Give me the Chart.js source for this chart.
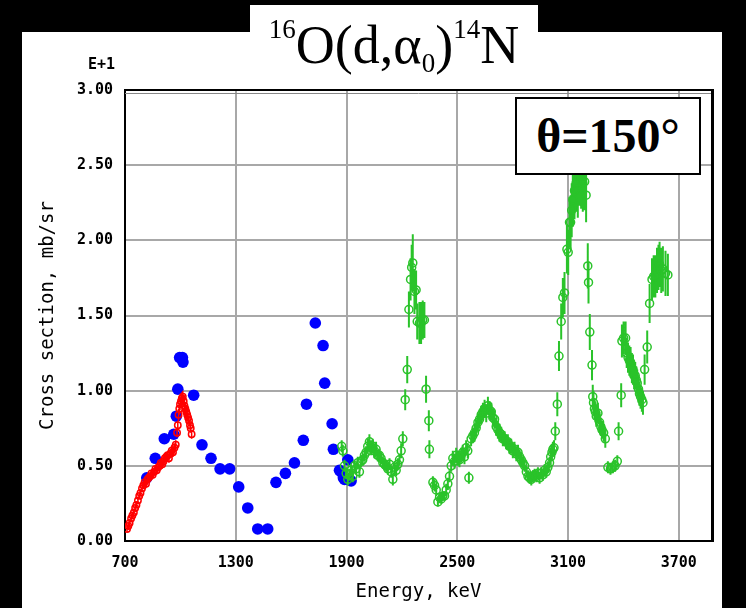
<!DOCTYPE html>
<html>
<head>
<meta charset="utf-8">
<script src="https://cdn.jsdelivr.net/npm/chart.js"></script>
<style>
  html, body { margin: 0; padding: 0; background: #000; width: 746px; height: 608px; overflow: hidden; }
  #panel { position: absolute; left: 22px; top: 32px; width: 700px; height: 576px; background: #fff; }
  #chart { position: absolute; left: 0; top: 0; }
  #title { position: absolute; left: 250px; top: 5px; width: 288px; height: 60px; padding-top: 10px;
           background: #fff; font-family: "Liberation Serif", serif; font-size: 54px; line-height: 60px;
           text-align: center; color: #000; white-space: nowrap; }
  #title .sup { font-size: 27px; position: relative; top: -25px; }
  #title .sub { font-size: 27px; position: relative; top: 9px; }
  #angle { position: absolute; left: 515px; top: 97px; width: 182px; height: 74px; border: 2px solid #000;
           background: #fff; font: bold 48px "Liberation Serif", serif; line-height: 74px; text-align: center; color: #000; }
</style>
</head>
<body>
<div id="panel"></div>
<canvas id="chart" width="746" height="608"></canvas>
<div id="title"><span class="sup">16</span>O(d,α<span class="sub">0</span>)<span class="sup">14</span>N</div>
<div id="angle">θ=150°</div>
<script>
// axis ticks
const xTicks = [700, 1300, 1900, 2500, 3100, 3700];
const xTickLabels = ['700', '1300', '1900', '2500', '3100', '3700'];
const yTicks = [0, 0.5, 1, 1.5, 2, 2.5, 3];
const yTickLabels = ['0.00', '0.50', '1.00', '1.50', '2.00', '2.50', '3.00'];

// blue set (no error bars)
const blueEnergy = [818, 864, 913, 964, 978, 986, 996, 1011, 1014, 1072,
  1117, 1166, 1215, 1267, 1316, 1365, 1419, 1473, 1518, 1569,
  1618, 1666, 1683, 1731, 1773, 1782, 1822, 1829, 1862, 1871,
  1883, 1889, 1907, 1925];
const blueSigma = [0.42, 0.55, 0.68, 0.71, 0.83, 1.01, 1.22, 1.22, 1.19, 0.97,
  0.64, 0.55, 0.48, 0.48, 0.36, 0.22, 0.08, 0.08, 0.39, 0.45,
  0.52, 0.67, 0.91, 1.45, 1.30, 1.05, 0.78, 0.61, 0.47, 0.46,
  0.42, 0.41, 0.54, 0.40];

// red set
const redEnergy = [711, 718, 725, 733, 740, 748, 755, 762, 770, 777,
  784, 792, 799, 806, 814, 821, 828, 836, 843, 850,
  858, 865, 872, 880, 887, 894, 902, 909, 916, 924,
  931, 938, 946, 953, 960, 968, 975, 982, 986, 990,
  994, 998, 1003, 1008, 1013, 1018, 1022, 1027, 1032, 1037,
  1042, 1047, 1052, 1056, 1061];
const redSigma = [0.08, 0.10, 0.12, 0.15, 0.17, 0.19, 0.22, 0.24, 0.27, 0.30,
  0.32, 0.35, 0.37, 0.39, 0.38, 0.41, 0.42, 0.43, 0.45, 0.44,
  0.46, 0.48, 0.47, 0.49, 0.50, 0.52, 0.51, 0.53, 0.55, 0.56,
  0.57, 0.55, 0.58, 0.60, 0.59, 0.62, 0.64, 0.72, 0.77, 0.84,
  0.88, 0.91, 0.93, 0.95, 0.96, 0.93, 0.90, 0.88, 0.86, 0.84,
  0.82, 0.80, 0.77, 0.75, 0.71];
const redError = [0.02, 0.02, 0.02, 0.02, 0.02, 0.02, 0.02, 0.02, 0.02, 0.02,
  0.02, 0.02, 0.02, 0.02, 0.02, 0.02, 0.02, 0.02, 0.02, 0.02,
  0.02, 0.02, 0.02, 0.02, 0.02, 0.03, 0.03, 0.03, 0.03, 0.03,
  0.03, 0.03, 0.03, 0.03, 0.03, 0.03, 0.03, 0.03, 0.03, 0.04,
  0.04, 0.04, 0.04, 0.04, 0.04, 0.04, 0.04, 0.04, 0.04, 0.04,
  0.03, 0.03, 0.03, 0.03, 0.03];

// green set
const greenEnergy = [1874, 1880, 1889, 1898, 1907, 1916, 1925, 1934, 1943, 1952,
  1961, 1970, 1979, 1988, 1997, 2006, 2015, 2024, 2033, 2042,
  2051, 2060, 2069, 2078, 2087, 2097, 2106, 2115, 2124, 2133,
  2142, 2151, 2160, 2169, 2178, 2187, 2196, 2205, 2218, 2229,
  2238, 2247, 2253, 2259, 2268, 2277, 2283, 2295, 2304, 2313,
  2322, 2331, 2346, 2349, 2368, 2377, 2386, 2395, 2404, 2413,
  2422, 2431, 2440, 2449, 2458, 2467, 2476, 2485, 2494, 2503,
  2512, 2521, 2530, 2539, 2548, 2557, 2563, 2575, 2584, 2593,
  2602, 2612, 2621, 2630, 2639, 2648, 2657, 2666, 2675, 2684,
  2693, 2702, 2711, 2720, 2729, 2738, 2747, 2756, 2765, 2774,
  2783, 2792, 2801, 2810, 2820, 2829, 2838, 2847, 2856, 2865,
  2874, 2883, 2892, 2901, 2910, 2919, 2928, 2937, 2946, 2955,
  2964, 2973, 2982, 2991, 3000, 3006, 3013, 3018, 3024, 3031,
  3042, 3051, 3063, 3072, 3081, 3094, 3101, 3108, 3114, 3120,
  3126, 3135, 3144, 3153, 3162, 3171, 3180, 3190, 3198, 3207,
  3211, 3218, 3230, 3234, 3238, 3243, 3248, 3253, 3262, 3271,
  3278, 3284, 3293, 3302, 3316, 3330, 3343, 3355, 3367, 3374,
  3388, 3392, 3401, 3412, 3418, 3425, 3432, 3439, 3446, 3452,
  3458, 3464, 3470, 3475, 3482, 3487, 3493, 3500, 3506, 3515,
  3529, 3542, 3555, 3564, 3573, 3582, 3590, 3596, 3605, 3614,
  3628, 3641];
const greenSigma = [0.63, 0.60, 0.50, 0.45, 0.41, 0.44, 0.47, 0.43, 0.50, 0.48,
  0.52, 0.46, 0.53, 0.54, 0.57, 0.59, 0.63, 0.66, 0.62, 0.63,
  0.60, 0.61, 0.57, 0.57, 0.55, 0.52, 0.51, 0.50, 0.48, 0.51,
  0.46, 0.41, 0.49, 0.47, 0.51, 0.54, 0.60, 0.68, 0.94, 1.14,
  1.54, 1.74, 1.82, 1.85, 1.66, 1.67, 1.46, 1.45, 1.45, 1.47,
  1.47, 1.01, 0.80, 0.61, 0.39, 0.37, 0.34, 0.26, 0.29, 0.28,
  0.30, 0.30, 0.34, 0.38, 0.43, 0.50, 0.55, 0.53, 0.57, 0.55,
  0.54, 0.57, 0.59, 0.56, 0.62, 0.60, 0.42, 0.68, 0.70, 0.72,
  0.75, 0.79, 0.81, 0.84, 0.86, 0.88, 0.85, 0.90, 0.87, 0.86,
  0.82, 0.81, 0.76, 0.74, 0.72, 0.71, 0.68, 0.68, 0.66, 0.66,
  0.63, 0.63, 0.60, 0.61, 0.58, 0.59, 0.56, 0.54, 0.52, 0.50,
  0.46, 0.43, 0.42, 0.41, 0.43, 0.44, 0.43, 0.45, 0.42, 0.45,
  0.44, 0.47, 0.46, 0.49, 0.52, 0.56, 0.59, 0.61, 0.62, 0.73,
  0.91, 1.23, 1.46, 1.62, 1.65, 1.94, 1.92, 2.12, 2.12, 2.20,
  2.27, 2.33, 2.38, 2.34, 2.42, 2.40, 2.38, 2.39, 2.30, 1.83,
  1.72, 1.39, 1.17, 0.96, 0.92, 0.88, 0.86, 0.83, 0.85, 0.79,
  0.76, 0.74, 0.72, 0.68, 0.49, 0.48, 0.49, 0.50, 0.53, 0.73,
  0.97, 1.33, 1.35, 1.35, 1.25, 1.22, 1.20, 1.19, 1.15, 1.14,
  1.10, 1.10, 1.07, 1.05, 1.01, 0.98, 0.96, 0.94, 0.92, 1.14,
  1.29, 1.58, 1.74, 1.76, 1.76, 1.80, 1.82, 1.84, 1.80, 1.81,
  1.78, 1.77];
const greenError = [0.04, 0.04, 0.04, 0.04, 0.04, 0.04, 0.04, 0.04, 0.04, 0.04,
  0.04, 0.04, 0.04, 0.04, 0.04, 0.04, 0.05, 0.05, 0.05, 0.05,
  0.05, 0.05, 0.04, 0.04, 0.04, 0.04, 0.04, 0.04, 0.04, 0.04,
  0.04, 0.04, 0.04, 0.04, 0.04, 0.04, 0.05, 0.05, 0.07, 0.09,
  0.12, 0.14, 0.15, 0.19, 0.15, 0.13, 0.12, 0.14, 0.14, 0.13,
  0.12, 0.09, 0.07, 0.06, 0.04, 0.04, 0.04, 0.03, 0.03, 0.03,
  0.03, 0.03, 0.04, 0.04, 0.04, 0.04, 0.05, 0.05, 0.05, 0.05,
  0.05, 0.05, 0.05, 0.05, 0.05, 0.05, 0.04, 0.05, 0.05, 0.06,
  0.06, 0.06, 0.06, 0.06, 0.06, 0.06, 0.06, 0.06, 0.06, 0.06,
  0.06, 0.06, 0.06, 0.06, 0.06, 0.05, 0.05, 0.05, 0.05, 0.05,
  0.05, 0.05, 0.05, 0.05, 0.05, 0.05, 0.05, 0.05, 0.04, 0.04,
  0.04, 0.04, 0.04, 0.04, 0.04, 0.04, 0.04, 0.04, 0.04, 0.04,
  0.04, 0.04, 0.04, 0.04, 0.04, 0.05, 0.05, 0.05, 0.05, 0.06,
  0.08, 0.10, 0.12, 0.13, 0.14, 0.16, 0.15, 0.17, 0.18, 0.18,
  0.18, 0.19, 0.19, 0.19, 0.19, 0.19, 0.19, 0.19, 0.18, 0.15,
  0.14, 0.12, 0.10, 0.08, 0.08, 0.07, 0.07, 0.07, 0.07, 0.07,
  0.06, 0.06, 0.06, 0.06, 0.04, 0.04, 0.04, 0.04, 0.04, 0.06,
  0.08, 0.11, 0.11, 0.11, 0.10, 0.10, 0.10, 0.10, 0.10, 0.10,
  0.09, 0.09, 0.09, 0.09, 0.09, 0.08, 0.08, 0.08, 0.08, 0.10,
  0.11, 0.13, 0.14, 0.14, 0.14, 0.15, 0.15, 0.15, 0.15, 0.15,
  0.15, 0.14];

const toPoints = (xs, ys) => xs.map((x, i) => ({ x: x, y: ys[i] }));

const monoFont = 'DejaVu Sans Mono';

// vertical error bars, drawn under the markers
const errorBars = {
  id: 'errorBars',
  beforeDatasetDraw(chart, args) {
    const ds = chart.data.datasets[args.index];
    if (!ds.errors) return;
    const xs = chart.scales.x, ys = chart.scales.y, ctx = chart.ctx, area = chart.chartArea;
    ctx.save();
    ctx.beginPath();
    ctx.rect(area.left, area.top, area.right - area.left, area.bottom - area.top);
    ctx.clip();
    ctx.strokeStyle = ds.borderColor;
    ctx.lineWidth = ds.errorWidth;
    ctx.beginPath();
    ds.data.forEach((p, i) => {
      const px = xs.getPixelForValue(p.x);
      ctx.moveTo(px, ys.getPixelForValue(p.y - ds.errors[i]));
      ctx.lineTo(px, ys.getPixelForValue(p.y + ds.errors[i]));
    });
    ctx.stroke();
    ctx.restore();
  }
};

// frame (top/right edges) and the exponent label
const frame = {
  id: 'frame',
  afterDraw(chart) {
    const ctx = chart.ctx, a = chart.chartArea;
    ctx.save();
    ctx.strokeStyle = '#000';
    ctx.lineWidth = 2;
    ctx.beginPath();
    ctx.moveTo(a.left - 1, a.top);
    ctx.lineTo(a.right, a.top);
    ctx.stroke();
    ctx.strokeStyle = '#888';
    ctx.lineWidth = 1;
    ctx.beginPath();
    ctx.moveTo(a.left, a.top + 3.5);
    ctx.lineTo(a.right, a.top + 3.5);
    ctx.stroke();
    ctx.strokeStyle = '#000';
    ctx.lineWidth = 3;
    ctx.beginPath();
    ctx.moveTo(a.right + 0.5, a.top - 1);
    ctx.lineTo(a.right + 0.5, a.bottom + 1);
    ctx.stroke();
    ctx.fillStyle = '#000';
    ctx.font = 'bold 15px "' + monoFont + '"';
    ctx.textAlign = 'right';
    ctx.textBaseline = 'middle';
    ctx.fillText('E+1', a.left - 10, 65);
    ctx.restore();
  }
};

new Chart(document.getElementById('chart'), {
  type: 'scatter',
  data: {
    datasets: [
      {
        label: 'green',
        data: toPoints(greenEnergy, greenSigma),
        errors: greenError,
        errorWidth: 2,
        borderColor: '#2ac32a',
        backgroundColor: 'rgba(255,255,255,0)',
        pointRadius: 4,
        pointBorderWidth: 1.5
      },
      {
        label: 'red',
        data: toPoints(redEnergy, redSigma),
        errors: redError,
        errorWidth: 1.5,
        borderColor: '#ff0000',
        backgroundColor: 'rgba(255,255,255,0)',
        pointRadius: 3.2,
        pointBorderWidth: 1.5
      },
      {
        label: 'blue',
        data: toPoints(blueEnergy, blueSigma),
        borderColor: '#0000ff',
        backgroundColor: '#0000ff',
        pointRadius: 5.8,
        pointBorderWidth: 0
      }
    ]
  },
  options: {
    responsive: false,
    animation: false,
    devicePixelRatio: 1,
    layout: { padding: { left: 22, top: 90, right: 34, bottom: 0 } },
    plugins: { legend: { display: false }, tooltip: { enabled: false } },
    scales: {
      x: {
        type: 'linear',
        min: 700,
        max: 3880,
        afterBuildTicks: (scale) => { scale.ticks = xTicks.map(v => ({ value: v })); },
        afterFit: (scale) => { scale.height = 67; },
        grid: { color: '#a8a8a8', lineWidth: 2, drawTicks: false },
        border: { color: '#000', width: 2 },
        ticks: {
          padding: 13,
          color: '#000',
          font: { family: monoFont, size: 15, weight: 'bold' },
          callback: (v) => xTickLabels[xTicks.indexOf(v)]
        },
        title: {
          display: true,
          text: 'Energy, keV',
          color: '#000',
          font: { family: monoFont, size: 19 },
          padding: { top: 0, bottom: 5 }
        }
      },
      y: {
        type: 'linear',
        min: 0,
        max: 3,
        afterBuildTicks: (scale) => { scale.ticks = yTicks.map(v => ({ value: v })); },
        afterFit: (scale) => { scale.width = 103; },
        grid: { color: '#a8a8a8', lineWidth: 2, drawTicks: false },
        border: { color: '#000', width: 2 },
        ticks: {
          padding: 12,
          color: '#000',
          font: { family: monoFont, size: 15, weight: 'bold' },
          callback: (v) => yTickLabels[yTicks.indexOf(v)]
        },
        title: {
          display: true,
          text: 'Cross section, mb/sr',
          color: '#000',
          font: { family: monoFont, size: 19 },
          padding: { top: 15, bottom: 0 }
        }
      }
    }
  },
  plugins: [errorBars, frame]
});
</script>
</body>
</html>
